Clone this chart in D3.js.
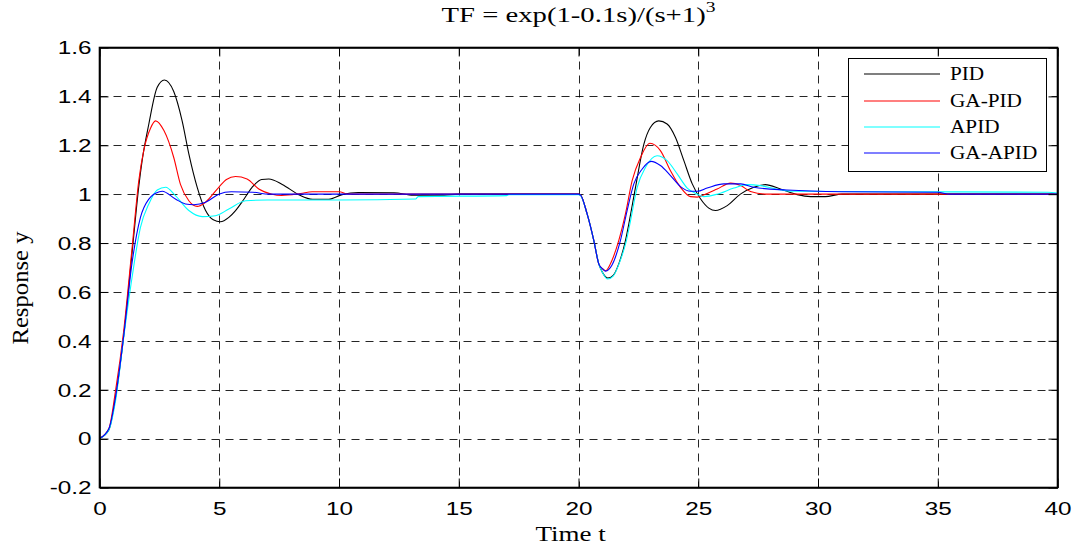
<!DOCTYPE html>
<html><head><meta charset="utf-8">
<script src="https://cdn.jsdelivr.net/npm/d3@7"></script>
<style>body{margin:0;background:#fff}svg{display:block}</style>
</head><body>
<svg id="chart" width="1079" height="548"></svg>
<script>
// ---------- data ----------
const seriesNames = ["PID", "GA-PID", "APID", "GA-APID"];
const seriesColors = ["#000000", "#ff0000", "#00ffff", "#0000ff"];

const pidT = [0,0.39,0.67,1.01,1.36,1.65,1.78,2.06,2.41,2.71,3.1,3.45,3.73,4.08,4.43,4.75,5.05,5.4,5.68,6.0,6.37,6.77,7.07,7.63,8.32,8.9,9.57,10.13,10.8,12.3,13.1,14.4,15,20,20.08,20.36,20.64,20.85,21.0,21.22,21.45,21.7,21.96,22.1,22.38,22.73,23.0,23.35,23.7,24.05,24.4,24.75,25.1,25.44,25.72,26.21,26.76,27.32,27.8,28.43,29.13,29.69,30.3,31,40];
const pidY = [0,0.035,0.17,0.42,0.76,1.04,1.137,1.287,1.437,1.467,1.42,1.30,1.165,1.028,0.933,0.895,0.887,0.905,0.933,0.975,1.028,1.06,1.062,1.04,0.998,0.979,0.979,0.998,1.007,1.006,0.996,0.996,1.0,1.0,0.997,0.919,0.81,0.714,0.68,0.657,0.668,0.72,0.81,0.878,1.028,1.205,1.273,1.30,1.287,1.232,1.137,1.042,0.98,0.943,0.933,0.953,1.0,1.028,1.039,1.021,0.998,0.99,0.99,1.0,1.0];

const gapidT = [0,0.39,0.67,1.01,1.36,1.64,1.85,2.13,2.34,2.69,3.1,3.38,3.73,4.08,4.4,4.98,5.3,5.68,6.16,6.65,7.2,7.6,8.4,8.88,10.0,10.4,20,20.08,20.36,20.64,20.85,21.0,21.13,21.4,21.68,21.96,22.24,22.59,22.98,23.42,23.84,24.26,24.68,24.96,25.37,25.79,26.35,26.77,27.18,27.88,40];
const gapidY = [0,0.04,0.196,0.44,0.78,1.055,1.18,1.27,1.30,1.26,1.15,1.04,0.973,0.95,0.965,1.028,1.06,1.072,1.062,1.021,1.0,0.995,1.003,1.01,1.01,1.0,1.0,0.997,0.919,0.81,0.714,0.695,0.687,0.73,0.81,0.919,1.055,1.15,1.208,1.178,1.096,1.028,0.99,0.988,1.003,1.021,1.045,1.035,1.011,1.0,1.0];

const apidT = [0,0.39,0.67,1.01,1.36,1.71,2.06,2.41,2.76,3.17,3.73,4.29,4.84,5.4,6.1,7,10,13.2,13.3,17,17.1,20,20.08,20.36,20.64,20.85,21.0,21.22,21.45,21.75,22.0,22.17,22.45,22.8,23.28,23.7,24.12,24.54,24.96,25.23,25.79,26.49,27.04,27.6,28.3,29,33,39.6,40];
const apidY = [0,0.035,0.155,0.414,0.66,0.864,0.96,1.017,1.028,0.994,0.933,0.908,0.912,0.939,0.973,0.976,0.976,0.98,0.99,0.994,0.998,0.998,0.995,0.919,0.81,0.714,0.68,0.653,0.665,0.73,0.81,0.89,1.028,1.11,1.157,1.137,1.083,1.025,1.0,0.99,1.0,1.025,1.039,1.035,1.02,1.012,1.01,1.008,1.005];

const gaapidT = [0,0.39,0.67,1.01,1.36,1.71,2.06,2.5,2.62,3.17,3.59,3.94,4.43,4.98,5.5,6.4,7.07,20,20.08,20.36,20.64,20.85,21.0,21.13,21.4,21.75,22.03,22.31,22.66,23.03,23.42,23.84,24.26,24.68,24.96,25.37,26.07,26.77,27.32,28.7,31,35,35.5,40];
const gaapidY = [0,0.04,0.17,0.42,0.72,0.905,0.98,1.01,1.012,0.98,0.96,0.957,0.967,1.0,1.01,1.008,1.0,1.0,0.997,0.919,0.81,0.714,0.695,0.685,0.71,0.81,0.933,1.042,1.103,1.134,1.117,1.076,1.031,1.012,1.012,1.025,1.042,1.042,1.028,1.017,1.01,1.008,1.0,1.0];

const xTicks = [0,5,10,15,20,25,30,35,40];
const yTicks = [-0.2,0,0.2,0.4,0.6,0.8,1,1.2,1.4,1.6];
const yTickLabels = ["-0.2","0","0.2","0.4","0.6","0.8","1","1.2","1.4","1.6"];

// ---------- layout ----------
const svg = d3.select("#chart");
const L = 99.5, R = 1057.5, T = 47.5, B = 487.5;
const x = d3.scaleLinear().domain([0, 40]).range([L, R]);
const y = d3.scaleLinear().domain([-0.2, 1.6]).range([B, T]);

// grid
const grid = svg.append("g").attr("stroke", "#000").attr("stroke-width", 1)
  .attr("stroke-dasharray", "8,6").attr("stroke-opacity", 0.85);
grid.selectAll("line.v").data(xTicks.slice(1, -1)).join("line")
  .attr("x1", d => Math.round(x(d)) + 0.5).attr("x2", d => Math.round(x(d)) + 0.5)
  .attr("y1", T).attr("y2", B);
grid.selectAll("line.h").data(yTicks.slice(1, -1)).join("line")
  .attr("y1", d => Math.round(y(d)) + 0.5).attr("y2", d => Math.round(y(d)) + 0.5)
  .attr("x1", L).attr("x2", R);

// series
const data = [[pidT, pidY], [gapidT, gapidY], [apidT, apidY], [gaapidT, gaapidY]];
const line = d3.line().x(d => x(d[0])).y(d => y(d[1])).curve(d3.curveMonotoneX);
data.forEach((s, i) => {
  const pts = s[0].map((t, k) => [t, s[1][k]]);
  svg.append("path").datum(pts).attr("d", line)
    .attr("fill", "none").attr("stroke", seriesColors[i]).attr("stroke-width", 1.1);
});

// axes
const tickLen = 9;
const sx = 1.35;
const xAxis = svg.append("g").attr("transform", `translate(0,${B})`)
  .call(d3.axisBottom(x).tickValues(xTicks).tickSizeInner(-tickLen).tickSizeOuter(0).tickFormat(d3.format("d")));
xAxis.selectAll("text").attr("y", 0).attr("dy", 0)
  .attr("transform", `translate(0,27) scale(${sx},1)`)
  .style("font-family", "'Liberation Sans', Arial, sans-serif").style("font-size", "18px").attr("fill", "#000");
const yAxis = svg.append("g").attr("transform", `translate(${L},0)`)
  .call(d3.axisLeft(y).tickValues(yTicks).tickSizeInner(-tickLen).tickSizeOuter(0)
    .tickFormat((d, i) => yTickLabels[i]));
yAxis.selectAll("text").attr("x", 0).attr("dy", "0.35em")
  .attr("transform", `translate(-8,0) scale(${sx},1)`)
  .style("font-family", "'Liberation Sans', Arial, sans-serif").style("font-size", "18px").attr("fill", "#000");
svg.append("g").attr("transform", `translate(0,${T})`)
  .call(d3.axisTop(x).tickValues(xTicks).tickSizeInner(-tickLen).tickSizeOuter(0).tickFormat(""));
svg.append("g").attr("transform", `translate(${R},0)`)
  .call(d3.axisRight(y).tickValues(yTicks).tickSizeInner(-tickLen).tickSizeOuter(0).tickFormat(""));
svg.selectAll(".domain").attr("stroke", "#000").attr("stroke-width", 1.6);
svg.selectAll(".tick line").attr("stroke", "#000").attr("stroke-width", 1);

// frame
svg.append("rect").attr("x", L).attr("y", T).attr("width", R - L).attr("height", B - T)
  .attr("fill", "none").attr("stroke", "#000").attr("stroke-width", 1.6);

// title
const serif = "'Liberation Serif', 'Times New Roman', serif";
const title = svg.append("text").attr("transform", `translate(${(L + R) / 2},22) scale(1.4,1)`)
  .attr("text-anchor", "middle").style("font-family", serif).style("font-size", "20.5px");
title.append("tspan").text("TF = exp(1-0.1s)/(s+1)");
title.append("tspan").attr("dy", -10).style("font-size", "14px").text("3");

// axis labels
svg.append("text").attr("transform", `translate(${(L + R) / 2 - 8},541) scale(1.35,1)`)
  .attr("text-anchor", "middle").style("font-family", serif).style("font-size", "20px").text("Time t");
svg.append("text").attr("transform", `translate(28,288) rotate(-90) scale(1.3,1.25)`)
  .attr("text-anchor", "middle").style("font-family", serif).style("font-size", "19px").text("Response y");

// legend
const lg = svg.append("g");
lg.append("rect").attr("x", 848.5).attr("y", 58.5).attr("width", 198).attr("height", 113)
  .attr("fill", "#fff").attr("stroke", "#000").attr("stroke-width", 1);
const rowY = [74, 101, 127, 153];
seriesNames.forEach((n, i) => {
  lg.append("line").attr("x1", 864).attr("x2", 940).attr("y1", rowY[i]).attr("y2", rowY[i])
    .attr("stroke", seriesColors[i]).attr("stroke-width", 1.1);
  lg.append("text").attr("transform", `translate(950,${rowY[i] + 6}) scale(1.18,1)`)
    .style("font-family", serif).style("font-size", "18px").text(n);
});
</script>
</body></html>
